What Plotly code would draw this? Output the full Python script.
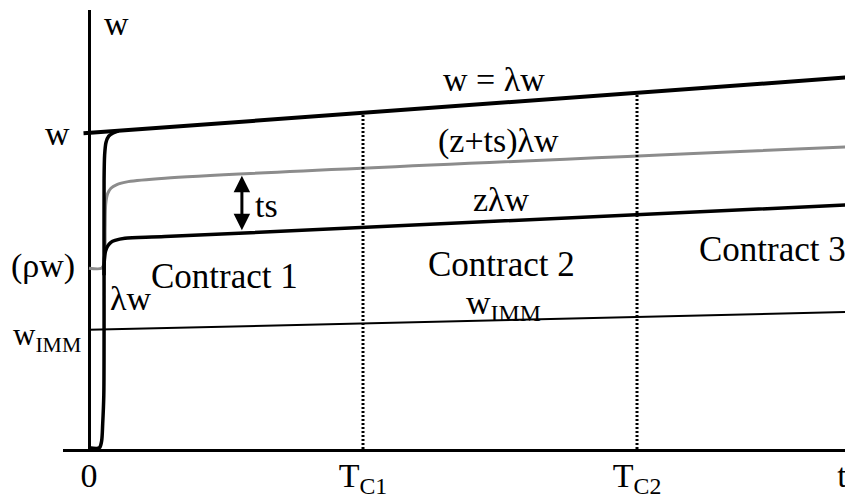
import numpy as np
import plotly.graph_objects as go

# --- Data (t in contract-length units, w in units of the outside wage) ---
t_lambda = [-0.02, 2.79]
w_lambda = [0.999, 1.177]

t_rise = [0.0, 0.038, 0.046, 0.050, 0.054, 0.055, 0.055, 0.057, 0.062, 0.072, 0.088, 0.108]
w_rise = [0.004, 0.004, 0.025, 0.08, 0.17, 0.5, 0.85, 0.93, 0.97, 0.99, 1.0, 1.007]

t_ts = [0.0, 0.046, 0.056, 0.059, 0.061, 0.068, 0.080, 0.100, 0.143, 0.277, 2.79]
w_ts = [0.572, 0.572, 0.59, 0.70, 0.775, 0.808, 0.825, 0.836, 0.846, 0.857, 0.957]

t_z = [0.055, 0.056, 0.060, 0.068, 0.080, 0.095, 0.131, 0.277, 2.765]
w_z = [0.55, 0.60, 0.625, 0.642, 0.654, 0.660, 0.667, 0.672, 0.772]

t_imm = [0.0, 2.79]
w_imm = [0.377, 0.434]

contract_ends = [1.0, 2.0]
t_arrow = 0.558

x_tick_vals = [0.0, 1.0, 2.0, 2.748]
x_tick_text = ["0", "T<sub>C1</sub>", "T<sub>C2</sub>", "t"]

FONT = "Liberation Serif, Times New Roman, serif"
BLACK = "#000000"
GREY = "#8c8c8c"

fig = go.Figure()

# outside option line w = lambda w
fig.add_trace(go.Scatter(x=t_lambda, y=w_lambda, mode="lines",
                         line=dict(color=BLACK, width=4), hoverinfo="skip"))

# (z+ts) lambda w, grey
fig.add_trace(go.Scatter(x=t_ts, y=w_ts, mode="lines",
                         line=dict(color=GREY, width=3, shape="spline", smoothing=0.8),
                         hoverinfo="skip"))

# z lambda w
fig.add_trace(go.Scatter(x=t_z, y=w_z, mode="lines",
                         line=dict(color=BLACK, width=3.5, shape="spline", smoothing=0.8),
                         hoverinfo="skip"))

# fast rise up to w
fig.add_trace(go.Scatter(x=t_rise, y=w_rise, mode="lines",
                         line=dict(color=BLACK, width=3.5, shape="spline", smoothing=0.8),
                         hoverinfo="skip"))

# w_IMM
fig.add_trace(go.Scatter(x=t_imm, y=w_imm, mode="lines",
                         line=dict(color=BLACK, width=2), hoverinfo="skip"))

# contract boundaries, dotted up to the lambda w line
for tc in contract_ends:
    fig.add_trace(go.Scatter(x=[tc, tc], y=[0, np.interp(tc, t_lambda, w_lambda)],
                             mode="lines", line=dict(color=BLACK, width=3, dash="2px,2px"),
                             hoverinfo="skip"))

# double arrow for ts
arrow_top = np.interp(t_arrow, t_ts, w_ts)
arrow_bot = np.interp(t_arrow, t_z, w_z)

annotations = [
    dict(x=t_arrow, y=arrow_top - 0.004, ax=t_arrow, ay=arrow_bot + 0.004,
         xref="x", yref="y", axref="x", ayref="y", text="",
         showarrow=True, arrowhead=2, arrowside="end+start",
         arrowwidth=3, arrowsize=1.1, arrowcolor=BLACK),
]

def label(x, y, text, size=34, xanchor="center", xref="x"):
    annotations.append(dict(x=x, y=y, xref=xref, yref="y", text=text,
                            showarrow=False, xanchor=xanchor, yanchor="middle",
                            font=dict(family=FONT, size=size, color=BLACK)))

# labels left of the w axis sit outside the t range, so place them in paper units
label(-0.0076, 0.997, "w", xref="paper")
label(-0.0254, 0.579, "(ρw)", xref="paper")
label(-0.066, 0.355, "w<sub>IMM</sub>", size=31, xanchor="left", xref="paper")

label(0.102, 1.345, "w")
label(0.150, 0.475, "λw")
label(0.493, 0.547, "Contract 1", size=35)
label(1.504, 0.585, "Contract 2", size=35)
label(2.496, 0.630, "Contract 3", size=35)
label(1.511, 0.455, "w<sub>IMM</sub>")
label(1.478, 1.168, "w = λw")
label(1.496, 0.975, "(z+ts)λw")
label(1.504, 0.788, "zλw")
label(0.646, 0.769, "ts")

# the page body has an 8px margin, so the figure is 8px smaller and sits at (8, 8)
fig.update_layout(
    width=845, height=489,
    paper_bgcolor="white", plot_bgcolor="white",
    showlegend=False,
    margin=dict(l=55, r=2, t=2, b=48),
    annotations=annotations,
    xaxis=dict(range=[-0.0949, 2.781], showgrid=False, automargin=False,
               zeroline=True, zerolinecolor=BLACK, zerolinewidth=3,
               showline=True, linecolor=BLACK, linewidth=3,
               tickmode="array", tickvals=x_tick_vals, ticktext=x_tick_text,
               ticks="", ticklabelstandoff=-6,
               tickfont=dict(family=FONT, size=34, color=BLACK)),
    yaxis=dict(range=[0, 1.389], showgrid=False, zeroline=False, automargin=False,
               showline=False, showticklabels=False, ticks=""),
)

fig.write_html("out.html")
